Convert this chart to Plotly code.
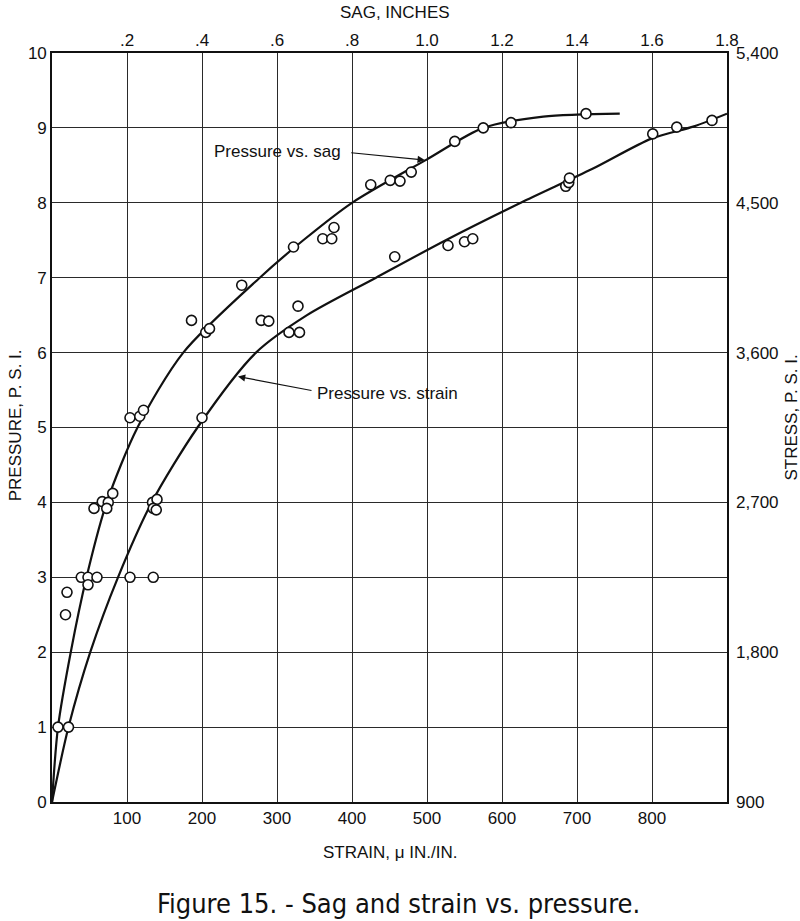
import plotly.graph_objects as go

# ---- data ----
# Pressure vs. sag: measured points (sag in inches, pressure psi)
sag_pts_in = [0.016, 0.036, 0.040, 0.078, 0.096, 0.096, 0.120, 0.112, 0.134, 0.150, 0.146, 0.162,
              0.208, 0.234, 0.244, 0.372, 0.410, 0.420, 0.506, 0.644, 0.722, 0.746, 0.752,
              0.850, 0.902, 0.928, 0.958, 1.074, 1.150, 1.224, 1.424]
sag_pts_p = [1.0, 2.5, 2.8, 3.0, 3.0, 2.9, 3.0, 3.92, 4.01, 4.0, 3.92, 4.12,
             5.13, 5.15, 5.23, 6.43, 6.27, 6.32, 6.9, 7.41, 7.52, 7.52, 7.67,
             8.24, 8.30, 8.29, 8.41, 8.82, 9.0, 9.07, 9.19]
# Pressure vs. sag: drawn curve
sag_curve_in = [0.0, 0.016, 0.050, 0.092, 0.146, 0.228, 0.350, 0.554, 0.670, 0.800, 1.000, 1.150, 1.310, 1.514]
sag_curve_p = [0.0, 1.0, 2.0, 3.0, 4.0, 5.0, 6.0, 7.0, 7.5, 8.0, 8.58, 9.0, 9.15, 9.19]

# Pressure vs. strain: measured points (micro in./in., psi)
strain_pts = [22, 104, 135, 134, 140, 135, 139, 200, 279, 289, 328, 316, 330,
              457, 528, 550, 561, 685, 689, 690, 801, 833, 880]
strain_pts_p = [1.0, 3.0, 3.0, 4.0, 4.04, 3.92, 3.9, 5.13, 6.43, 6.42, 6.62, 6.27, 6.27,
                7.28, 7.43, 7.48, 7.52, 8.22, 8.27, 8.33, 8.92, 9.01, 9.10]
# Pressure vs. strain: drawn curve
strain_curve = [0, 22, 51, 88, 133, 194, 272, 340, 432, 525, 625, 720, 800, 856, 900]
strain_curve_p = [0.0, 1.0, 2.0, 3.0, 4.0, 5.0, 6.0, 6.5, 7.0, 7.5, 8.0, 8.45, 8.86, 9.02, 9.19]

# axes ticks
strain_ticks = [100, 200, 300, 400, 500, 600, 700, 800]
sag_ticks = [0.2, 0.4, 0.6, 0.8, 1.0, 1.2, 1.4, 1.6, 1.8]
sag_ticktext = [".2", ".4", ".6", ".8", "1.0", "1.2", "1.4", "1.6", "1.8"]
pressure_ticks = [0, 1, 2, 3, 4, 5, 6, 7, 8, 9, 10]
stress_ticks = [900, 1800, 2700, 3600, 4500, 5400]
stress_ticktext = ["900", "1,800", "2,700", "3,600", "4,500", "5,400"]

INK = "#111111"
FONT = "Liberation Sans, Arial, sans-serif"

fig = go.Figure()

fig.add_trace(go.Scatter(x=strain_curve, y=strain_curve_p, mode="lines",
                         line=dict(color=INK, width=2.2, shape="spline", smoothing=0.8),
                         xaxis="x", yaxis="y", showlegend=False, hoverinfo="skip"))
fig.add_trace(go.Scatter(x=sag_curve_in, y=sag_curve_p, mode="lines",
                         line=dict(color=INK, width=2.2, shape="spline", smoothing=0.8),
                         xaxis="x2", yaxis="y", showlegend=False, hoverinfo="skip"))
marker = dict(symbol="circle", size=10, color="white", line=dict(color=INK, width=1.6))
fig.add_trace(go.Scatter(x=strain_pts, y=strain_pts_p, mode="markers", marker=marker,
                         xaxis="x", yaxis="y", showlegend=False))
fig.add_trace(go.Scatter(x=sag_pts_in, y=sag_pts_p, mode="markers", marker=marker,
                         xaxis="x2", yaxis="y", showlegend=False))
# invisible trace to activate the stress axis
fig.add_trace(go.Scatter(x=[0], y=[900], mode="markers", marker=dict(opacity=0),
                         xaxis="x", yaxis="y2", showlegend=False, hoverinfo="skip"))

tickfont = dict(family=FONT, size=17, color=INK)

fig.update_layout(
    width=800, height=921,
    margin=dict(l=52, r=73, t=53, b=119),
    paper_bgcolor="white", plot_bgcolor="white",
    xaxis=dict(range=[0, 900], tickvals=strain_ticks, ticktext=[str(v) for v in strain_ticks],
               showgrid=True, gridcolor="#2a2a2a", gridwidth=1.2, zeroline=False,
               showline=True, linecolor=INK, linewidth=1.6, mirror=True,
               ticks="", tickfont=tickfont),
    xaxis2=dict(range=[0, 1.8], tickvals=sag_ticks, ticktext=sag_ticktext, overlaying="x",
                side="top", showgrid=False, zeroline=False, showline=False,
                ticks="", tickfont=tickfont, anchor="y", ticklabelstandoff=3),
    yaxis=dict(range=[0, 10], tickvals=pressure_ticks, ticktext=[str(v) for v in pressure_ticks],
               showgrid=True, gridcolor="#2a2a2a", gridwidth=1.2, zeroline=False,
               showline=True, linecolor=INK, linewidth=1.6, mirror=True,
               ticks="", tickfont=tickfont),
    yaxis2=dict(range=[900, 5400], tickvals=stress_ticks, ticktext=stress_ticktext,
                overlaying="y", side="right", showgrid=False, zeroline=False, showline=False,
                ticks="", tickfont=tickfont, anchor="x", ticklabelstandoff=8),
)

titlefont = dict(family=FONT, size=17, color=INK)
lblfont = dict(family=FONT, size=17, color=INK)
ann = [
    dict(text="SAG, INCHES", x=0.508, y=1.0547, xref="paper", yref="paper",
         showarrow=False, font=titlefont, xanchor="center", yanchor="middle"),
    dict(text="STRAIN, \u03bc IN./IN.", x=0.5, y=-0.068, xref="paper", yref="paper",
         showarrow=False, font=titlefont, xanchor="center", yanchor="middle"),
    dict(text="PRESSURE, P. S. I.", x=-0.0548, y=0.503, xref="paper", yref="paper",
         showarrow=False, font=titlefont, textangle=-90, xanchor="center", yanchor="middle"),
    dict(text="STRESS, P. S. I.", x=1.096, y=0.513, xref="paper", yref="paper",
         showarrow=False, font=titlefont, textangle=-90, xanchor="center", yanchor="middle"),
    dict(text="Figure 15. - Sag and strain vs. pressure.", x=0.513, y=-0.135,
         xref="paper", yref="paper", showarrow=False,
         font=dict(family="Liberation Sans Narrow, DejaVu Sans Condensed, Liberation Sans, sans-serif",
                   size=27, color=INK),
         xanchor="center", yanchor="middle"),
    # curve labels
    dict(text="Pressure vs. sag", x=213, y=8.69, xref="x", yref="y", showarrow=False,
         font=lblfont, xanchor="left", yanchor="middle"),
    dict(text="", x=497, y=8.57, xref="x", yref="y", ax=397, ay=8.67, axref="x", ayref="y",
         showarrow=True, arrowhead=2, arrowsize=1.2, arrowwidth=1.2, arrowcolor=INK, standoff=0),
    dict(text="Pressure vs. strain", x=350, y=5.46, xref="x", yref="y", showarrow=False,
         font=lblfont, xanchor="left", yanchor="middle"),
    dict(text="", x=248, y=5.68, xref="x", yref="y", ax=348, ay=5.49, axref="x", ayref="y",
         showarrow=True, arrowhead=2, arrowsize=1.2, arrowwidth=1.2, arrowcolor=INK, standoff=0),
]
fig.update_layout(annotations=ann)

fig.write_html("out.html")
